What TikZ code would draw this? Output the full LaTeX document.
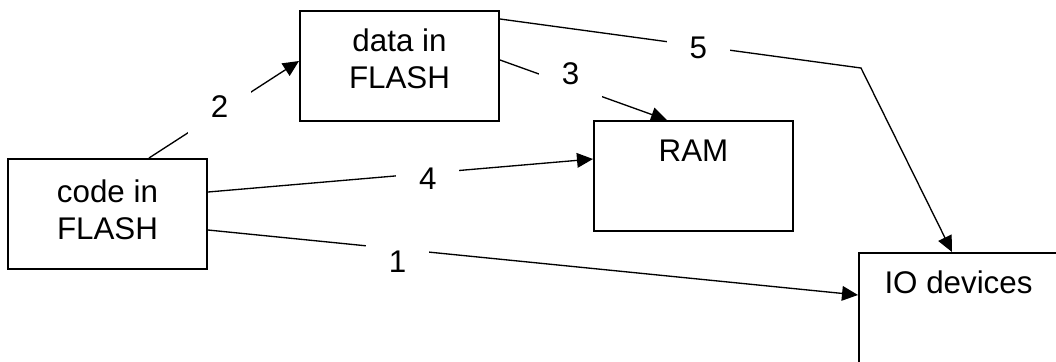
\documentclass[tikz,border=0pt]{standalone}
\usepackage{fontspec}
\setmainfont{Liberation Sans}
\usetikzlibrary{arrows.meta,calc}
\tikzset{
  box/.style={draw, line width=1.5pt, minimum width=149.25pt, minimum height=82.5pt, inner sep=0pt},
  txt/.style={anchor=north, inner sep=0pt, align=center},
  lbl/.style={fill=white, minimum width=47.25pt, minimum height=42pt, inner sep=0pt, xshift=-2.6pt},
}
\begin{document}
\begin{tikzpicture}[x=0.75pt, y=-0.75pt, >={Triangle[length=12pt,width=11pt]}, line width=1pt, font=\fontsize{23.5}{27.75}\selectfont]
	\useasboundingbox (0,0) rectangle (1056,361);
	% boxes
	\node[box] (code) at (107.5,214) {};
	\node[box] (data) at (399.5,66) {};
	\node[box] (ram) at (693.5,176) {};
	\node[box] (io) at (958.5,308) {};
	\node[txt] (codetxt) at ($(code.north)+(0,21)$) {code in\\FLASH};
	\node[txt] (datatxt) at ($(data.north)+(0,18)$) {data in\\FLASH};
	\node[txt] (ramtxt) at ($(ram.north)+(0,19)$) {RAM};
	\node[txt] (iotxt) at ($(io.north)+(0,18)$) {IO devices};
	% connectors
	\coordinate (bend) at (861,68);
	\draw[->] ($(code.north west)+(142,0)$) -- node[lbl, pos=.493, yshift=3pt] (l2) {2} ($(data.north west)+(0,51)$);
	\draw[->] ($(code.north east)+(0,34)$) -- node[lbl, pos=.58, yshift=-4.5pt] (l4) {4} ($(ram.north west)+(0,39)$);
	\draw[->] ($(code.north east)+(0,72)$) -- node[lbl, pos=.297, yshift=-9pt] (l1) {1} ($(io.north west)+(0,43)$);
	\draw[->] ($(data.north east)+(0,50)$) -- node[lbl, pos=.444, yshift=9.5pt] (l3) {3} ($(ram.north west)+(74,0)$);
	\draw[->] ($(data.north east)+(0,9)$) -- node[lbl, pos=.559, yshift=-.75pt] (l5) {5} (bend) -- ($(io.north west)+(94,0)$);
\end{tikzpicture}
\end{document}
